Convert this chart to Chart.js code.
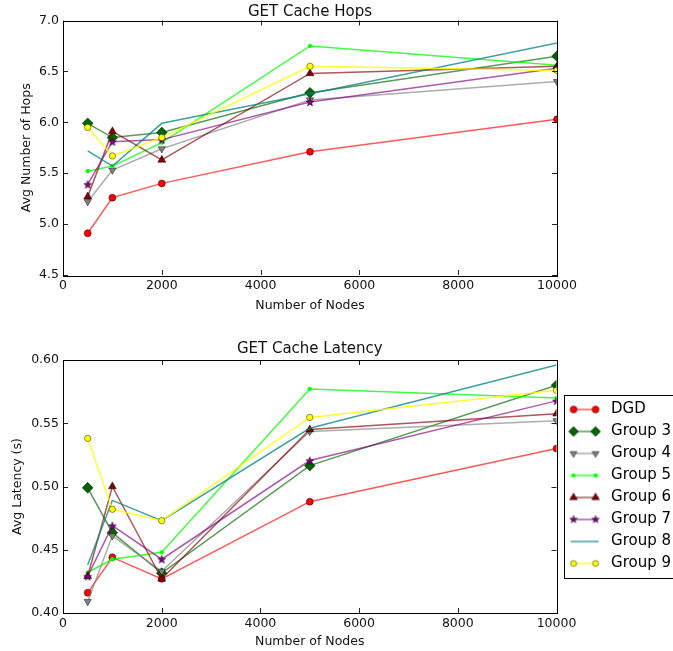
<!DOCTYPE html>
<html><head><meta charset="utf-8">
<script src="https://cdn.jsdelivr.net/npm/chart.js@4/dist/chart.umd.min.js"></script>
<style>
html,body{margin:0;padding:0;background:#fff;overflow:hidden;width:673px;height:651px;}
#wrap{position:absolute;left:0;top:0;width:673px;height:651px;overflow:hidden;}
#c1{position:absolute;left:0;top:0;}
#c2{position:absolute;left:0;top:325px;}
</style></head><body>
<div id="wrap">
<canvas id="c1" width="673" height="325"></canvas>
<canvas id="c2" width="683" height="326"></canvas>
</div>
<script>
// ---------- data ----------
const nodes = [500, 1000, 2000, 5000, 10000];
const seriesNames = ['DGD', 'Group 3', 'Group 4', 'Group 5', 'Group 6', 'Group 7', 'Group 8', 'Group 9'];

const hopsDGD = [4.91, 5.26, 5.40, 5.71, 6.03];
const hopsG3  = [5.99, 5.85, 5.90, 6.29, 6.65];
const hopsG4  = [5.22, 5.53, 5.74, 6.22, 6.40];
const hopsG5  = [5.52, 5.57, 5.80, 6.75, 6.56];
const hopsG6  = [5.27, 5.91, 5.63, 6.48, 6.55];
const hopsG7  = [5.39, 5.81, 5.83, 6.20, 6.53];
const hopsG8  = [5.72, 5.57, 5.99, 6.28, 6.78];
const hopsG9  = [5.95, 5.67, 5.85, 6.55, 6.51];

const latDGD = [0.416, 0.444, 0.427, 0.488, 0.530];
const latG3  = [0.499, 0.4635, 0.4315, 0.5165, 0.580];
const latG4  = [0.409, 0.461, 0.433, 0.5435, 0.552];
const latG5  = [0.432, 0.4425, 0.448, 0.577, 0.570];
const latG6  = [0.429, 0.500, 0.427, 0.545, 0.5575];
const latG7  = [0.429, 0.469, 0.4425, 0.5205, 0.5677];
const latG8  = [0.438, 0.489, 0.473, 0.546, 0.596];
const latG9  = [0.538, 0.482, 0.473, 0.5546, 0.576];

const xTicks = [0, 2000, 4000, 6000, 8000, 10000];
const hopsTicks = [4.5, 5.0, 5.5, 6.0, 6.5, 7.0];
const latTicks = [0.40, 0.45, 0.50, 0.55, 0.60];

// ---------- styles ----------
const FONT = 'DejaVu Sans';
const lineColors = ['rgba(255,0,0,0.65)', 'rgba(0,100,0,0.65)', 'rgba(128,128,128,0.65)', 'rgba(0,255,0,0.75)',
                    'rgba(128,0,0,0.65)', 'rgba(128,0,128,0.65)', 'rgba(0,128,128,0.75)', 'rgba(255,255,0,0.8)'];
const markerColors = ['#ff0000', '#006400', '#808080', '#00ff00', '#800000', '#800080', '#008080', '#ffff00'];
const markerKinds = ['circle', 'diamond', 'triDown', 'dot', 'triUp', 'star', 'none', 'circle'];
const markerRadii = [3.5, 5, 4, 1.8, 4.5, 4, 0, 3];
const EDGE = 'rgba(0,0,0,0.55)';

function drawMarker(ctx, kind, x, y, r, fill) {
  ctx.save();
  ctx.fillStyle = fill; ctx.strokeStyle = EDGE; ctx.lineWidth = 0.8;
  ctx.beginPath();
  if (kind === 'circle') { ctx.arc(x, y, r, 0, Math.PI * 2); }
  else if (kind === 'dot') { ctx.arc(x, y, r, 0, Math.PI * 2); ctx.strokeStyle = fill; }
  else if (kind === 'diamond') { ctx.moveTo(x, y - r); ctx.lineTo(x + r, y); ctx.lineTo(x, y + r); ctx.lineTo(x - r, y); ctx.closePath(); }
  else if (kind === 'triUp') { ctx.moveTo(x, y - r); ctx.lineTo(x + r * 0.87, y + r * 0.5); ctx.lineTo(x - r * 0.87, y + r * 0.5); ctx.closePath(); }
  else if (kind === 'triDown') { ctx.moveTo(x, y + r); ctx.lineTo(x + r * 0.87, y - r * 0.5); ctx.lineTo(x - r * 0.87, y - r * 0.5); ctx.closePath(); }
  else if (kind === 'star') {
    for (let k = 0; k < 10; k++) {
      const a = -Math.PI / 2 + k * Math.PI / 5; const rr = (k % 2 === 0) ? r : r * 0.42;
      const px = x + rr * Math.cos(a), py = y + rr * Math.sin(a);
      if (k === 0) ctx.moveTo(px, py); else ctx.lineTo(px, py);
    }
    ctx.closePath();
  } else { ctx.restore(); return; }
  ctx.fill(); ctx.stroke();
  ctx.restore();
}

// star point image for Group 7
const starImg = document.createElement('canvas');
starImg.width = 10; starImg.height = 10;
drawMarker(starImg.getContext('2d'), 'star', 5, 5.4, 4.3, markerColors[5]);

const pointStyles = ['circle', 'rectRot', 'triangle', 'circle', 'triangle', starImg, 'circle', 'circle'];
const pointRotations = [0, 0, 180, 0, 0, 0, 0, 0];
const pointRadii = [3.5, 5.4, 4.2, 1.8, 4.6, 4.5, 0, 3.2];
const pointEdges = [EDGE, EDGE, EDGE, '#00ff00', EDGE, EDGE, EDGE, EDGE];

// legend icons (line + two markers)
const legendIcons = seriesNames.map((n, i) => {
  const c = document.createElement('canvas'); c.width = 40; c.height = 14;
  const g = c.getContext('2d');
  g.strokeStyle = lineColors[i]; g.lineWidth = 1.5;
  g.beginPath(); g.moveTo(7, 7); g.lineTo(35, 7); g.stroke();
  drawMarker(g, markerKinds[i], 10, 7, markerRadii[i], markerColors[i]);
  drawMarker(g, markerKinds[i], 32, 7, markerRadii[i], markerColors[i]);
  return c;
});

function makeDatasets(valuesList) {
  return seriesNames.map((name, i) => ({
    label: name,
    data: nodes.map((n, j) => ({ x: n, y: valuesList[i][j] })),
    borderColor: lineColors[i],
    backgroundColor: markerColors[i],
    pointBackgroundColor: markerColors[i],
    pointBorderColor: pointEdges[i],
    pointBorderWidth: 0.8,
    pointRadius: pointRadii[i],
    pointHoverRadius: pointRadii[i],
    pointStyle: pointStyles[i],
    pointRotation: pointRotations[i],
    borderWidth: 1.5,
    tension: 0,
    fill: false,
    order: seriesNames.length - i
  }));
}

const framePlugin = {
  id: 'frame',
  afterDatasetsDraw(chart) {
    const { ctx, chartArea: a } = chart;
    const xs = chart.scales.x, ys = chart.scales.y;
    ctx.save();
    ctx.strokeStyle = '#222'; ctx.lineWidth = 1;
    ctx.beginPath();
    xs.ticks.forEach(t => {
      const px = Math.round(xs.getPixelForValue(t.value)) + 0.5;
      ctx.moveTo(px, a.bottom); ctx.lineTo(px, a.bottom - 5);
      ctx.moveTo(px, a.top); ctx.lineTo(px, a.top + 5);
    });
    ys.ticks.forEach(t => {
      const py = Math.round(ys.getPixelForValue(t.value)) + 0.5;
      ctx.moveTo(a.left, py); ctx.lineTo(a.left + 5, py);
      ctx.moveTo(a.right, py); ctx.lineTo(a.right - 5, py);
    });
    ctx.stroke();
    ctx.strokeStyle = '#000';
    ctx.strokeRect(Math.round(a.left) + 0.5, Math.round(a.top) + 0.5, Math.round(a.right - a.left), Math.round(a.bottom - a.top));
    ctx.restore();
  }
};

const legendFramePlugin = {
  id: 'legendFrame',
  afterDraw(chart) {
    const lg = chart.legend;
    if (!lg || !lg.legendHitBoxes || !lg.legendHitBoxes.length) return;
    const hb = lg.legendHitBoxes;
    const top = Math.round(hb[0].top - 7) + 0.5;
    const last = hb[hb.length - 1];
    const bottom = Math.round(last.top + last.height + 7) + 0.5;
    const left = Math.round(hb[0].left) + 0.5;
    const ctx = chart.ctx;
    ctx.save();
    ctx.strokeStyle = '#000'; ctx.lineWidth = 1;
    ctx.strokeRect(left, top, chart.width + 10 - left, bottom - top);
    ctx.restore();
  }
};

function makeChart(canvas, cfg) {
  return new Chart(canvas, {
    type: 'line',
    data: { datasets: makeDatasets(cfg.values) },
    options: {
      responsive: false, animation: false, events: [],
      layout: { padding: { left: 0, right: cfg.padRight, top: 0, bottom: 0 } },
      plugins: {
        tooltip: { enabled: false },
        title: {
          display: true, text: cfg.title, color: '#111', fullSize: false,
          font: { family: FONT, size: 15, weight: 'normal', lineHeight: 1 },
          padding: cfg.titlePad
        },
        legend: cfg.legend ? {
          display: true, position: 'right', align: 'center', fullSize: false,
          labels: {
            color: '#000', font: { family: FONT, size: 15 }, padding: 7,
            usePointStyle: true, pointStyleWidth: 40,
            sort: (a, b) => a.datasetIndex - b.datasetIndex,
            generateLabels(chart) {
              const items = Chart.defaults.plugins.legend.labels.generateLabels(chart);
              items.forEach(it => { it.pointStyle = legendIcons[it.datasetIndex]; it.rotation = 0; });
              return items;
            }
          }
        } : { display: false }
      },
      scales: {
        x: {
          type: 'linear', min: 0, max: 10000,
          afterBuildTicks: s => { s.ticks = xTicks.map(v => ({ value: v })); },
          afterFit: s => { s.height = cfg.xHeight; },
          grid: { display: false, drawTicks: false },
          border: { display: false },
          ticks: { color: '#111', font: { family: FONT, size: 12.5 }, padding: 3, maxRotation: 0, callback: v => String(v) },
          title: { display: true, text: 'Number of Nodes', color: '#111', font: { family: FONT, size: 12.5 }, padding: cfg.xTitlePad }
        },
        y: {
          type: 'linear', min: cfg.yMin, max: cfg.yMax,
          afterBuildTicks: s => { s.ticks = cfg.yTicks.map(v => ({ value: v })); },
          afterFit: s => { s.width = 63; },
          grid: { display: false, drawTicks: false },
          border: { display: false },
          ticks: { color: '#111', font: { family: FONT, size: 12.5 }, padding: 4, callback: v => Number(v).toFixed(cfg.dec) },
          title: { display: true, text: cfg.yTitle, color: '#111', font: { family: FONT, size: 12.5 }, padding: cfg.yTitlePad }
        }
      }
    },
    plugins: cfg.legend ? [framePlugin, legendFramePlugin] : [framePlugin]
  });
}

makeChart(document.getElementById('c1'), {
  values: [hopsDGD, hopsG3, hopsG4, hopsG5, hopsG6, hopsG7, hopsG8, hopsG9],
  title: 'GET Cache Hops', titlePad: { top: 5, bottom: 0.5 },
  padRight: 116, xHeight: 50, xTitlePad: 12,
  yMin: 4.5, yMax: 7.0, yTicks: hopsTicks, dec: 1,
  yTitle: 'Avg Number of Hops', yTitlePad: 19.5, legend: false
});

makeChart(document.getElementById('c2'), {
  values: [latDGD, latG3, latG4, latG5, latG6, latG7, latG8, latG9],
  title: 'GET Cache Latency', titlePad: { top: 17, bottom: 3 },
  padRight: 2, xHeight: 38, xTitlePad: 1.5,
  yMin: 0.40, yMax: 0.60, yTicks: latTicks, dec: 2,
  yTitle: 'Avg Latency (s)', yTitlePad: 10.5, legend: true
});
</script>
</body></html>
